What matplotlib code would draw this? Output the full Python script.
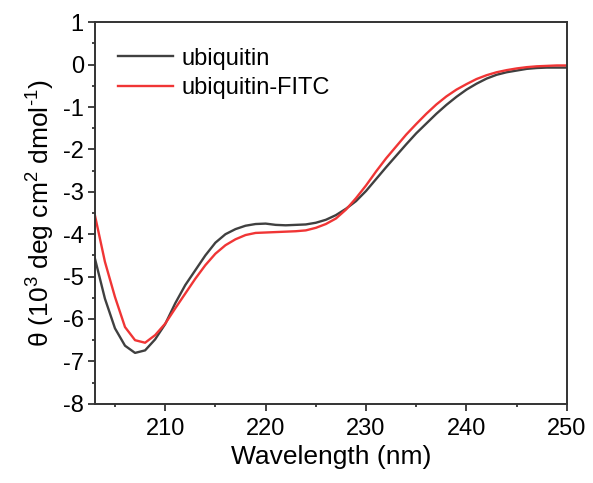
import numpy as np
import matplotlib
matplotlib.use("Agg")
import matplotlib.pyplot as plt

plt.rcParams['font.family'] = ['Liberation Sans', 'DejaVu Sans']
plt.rcParams['mathtext.fontset'] = 'custom'
plt.rcParams['mathtext.rm'] = 'Liberation Sans'
plt.rcParams['mathtext.default'] = 'regular'
plt.rcParams['axes.unicode_minus'] = False

# CD spectra (1 nm steps)
wavelength = np.arange(203, 251)
ubiquitin = [-4.57, -5.52, -6.22, -6.63, -6.80, -6.74, -6.48, -6.12, -5.63, -5.20,
             -4.85, -4.50, -4.20, -4.00, -3.88, -3.80, -3.76, -3.75, -3.78, -3.79,
             -3.78, -3.77, -3.73, -3.66, -3.55, -3.40, -3.22, -2.98, -2.70, -2.42,
             -2.15, -1.88, -1.62, -1.39, -1.16, -0.95, -0.76, -0.59, -0.45, -0.33,
             -0.24, -0.18, -0.14, -0.10, -0.08, -0.07, -0.07, -0.07]
ubiquitin_fitc = [-3.55, -4.65, -5.48, -6.19, -6.50, -6.56, -6.38, -6.11, -5.75, -5.40,
                  -5.05, -4.73, -4.46, -4.26, -4.12, -4.02, -3.97, -3.96, -3.95, -3.94,
                  -3.93, -3.91, -3.85, -3.76, -3.63, -3.42, -3.15, -2.85, -2.52, -2.21,
                  -1.93, -1.65, -1.40, -1.16, -0.94, -0.75, -0.59, -0.46, -0.34, -0.25,
                  -0.18, -0.13, -0.09, -0.06, -0.04, -0.03, -0.02, -0.02]

fig = plt.figure(figsize=(5.93, 4.83), dpi=100)
ax = fig.add_axes([0.160, 0.164, 0.796, 0.790])

ax.plot(wavelength, ubiquitin, color='#404040', lw=1.7, label='ubiquitin')
ax.plot(wavelength, ubiquitin_fitc, color='#f03535', lw=1.7, label='ubiquitin-FITC')

ax.set_xlim(203, 250)
ax.set_ylim(-8, 1)
ax.set_xticks([210, 220, 230, 240, 250])
ax.set_xticks(np.arange(205, 251, 5), minor=True)
ax.set_yticks(np.arange(-8, 2, 1))
ax.set_yticks(np.arange(-8, 1.01, 0.5), minor=True)

for s in ax.spines.values():
    s.set_linewidth(1.4)
    s.set_color('#333333')
ax.tick_params(which='both', direction='out', colors='#333333', labelcolor='black',
               labelsize=17, width=1.3)
ax.tick_params(axis='x', pad=5)
ax.tick_params(axis='y', pad=3)
ax.tick_params(which='major', length=5)
ax.tick_params(which='minor', length=2.5)

ax.set_xlabel('Wavelength (nm)', fontsize=19, labelpad=4)
ax.set_ylabel('\u03b8 (10$^{3}$ deg cm$^{2}$ dmol$^{\\text{-1}}$)', fontsize=19, labelpad=4)

ax.legend(loc='upper left', frameon=False, fontsize=17, handlelength=2.3,
          handletextpad=0.35, labelspacing=0.3, borderaxespad=0.6,
          bbox_to_anchor=(0.0, 0.995))

fig.savefig('out.png', dpi=100)
